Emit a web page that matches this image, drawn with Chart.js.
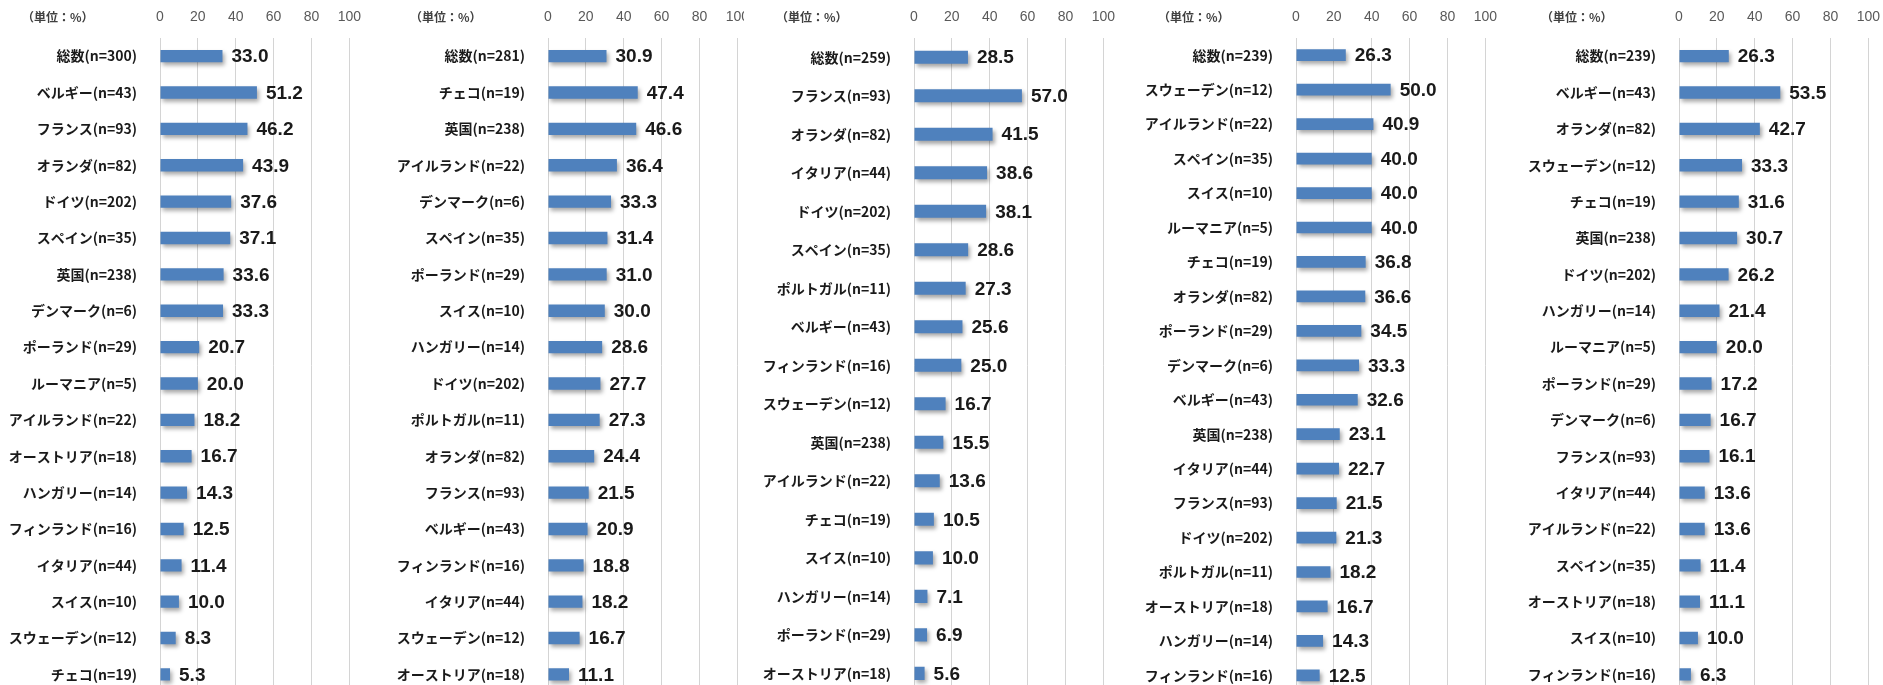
<!DOCTYPE html>
<html lang="ja">
<head>
<meta charset="utf-8">
<script src="https://cdn.jsdelivr.net/npm/chart.js@4/dist/chart.umd.min.js"></script>
<style>
    html, body { margin: 0; padding: 0; background: #fff; overflow: hidden; }
    body { width: 1883px; height: 685px; position: relative; }
    .panel { position: absolute; top: 0; height: 716px; overflow: hidden; }
</style>
</head>
<body>
<div class="panel" style="left:0px;width:373px"><canvas id="chart1" width="373" height="716"></canvas></div>
<div class="panel" style="left:388px;width:356px"><canvas id="chart2" width="373" height="716"></canvas></div>
<div class="panel" style="left:754px;width:373px"><canvas id="chart3" width="373" height="716"></canvas></div>
<div class="panel" style="left:1136px;width:373px"><canvas id="chart4" width="373" height="716"></canvas></div>
<div class="panel" style="left:1519px;width:364px"><canvas id="chart5" width="373" height="716"></canvas></div>

<script>
// 各グラフのデータ（単位：%）
const labels1 = ["総数(n=300)", "ベルギー(n=43)", "フランス(n=93)", "オランダ(n=82)", "ドイツ(n=202)", "スペイン(n=35)",
    "英国(n=238)", "デンマーク(n=6)", "ポーランド(n=29)", "ルーマニア(n=5)", "アイルランド(n=22)", "オーストリア(n=18)",
    "ハンガリー(n=14)", "フィンランド(n=16)", "イタリア(n=44)", "スイス(n=10)", "スウェーデン(n=12)", "チェコ(n=19)"];
const values1 = [33.0, 51.2, 46.2, 43.9, 37.6, 37.1, 33.6, 33.3, 20.7, 20.0, 18.2, 16.7, 14.3, 12.5, 11.4, 10.0, 8.3, 5.3];

const labels2 = ["総数(n=281)", "チェコ(n=19)", "英国(n=238)", "アイルランド(n=22)", "デンマーク(n=6)", "スペイン(n=35)",
    "ポーランド(n=29)", "スイス(n=10)", "ハンガリー(n=14)", "ドイツ(n=202)", "ポルトガル(n=11)", "オランダ(n=82)",
    "フランス(n=93)", "ベルギー(n=43)", "フィンランド(n=16)", "イタリア(n=44)", "スウェーデン(n=12)", "オーストリア(n=18)"];
const values2 = [30.9, 47.4, 46.6, 36.4, 33.3, 31.4, 31.0, 30.0, 28.6, 27.7, 27.3, 24.4, 21.5, 20.9, 18.8, 18.2, 16.7, 11.1];

const labels3 = ["総数(n=259)", "フランス(n=93)", "オランダ(n=82)", "イタリア(n=44)", "ドイツ(n=202)", "スペイン(n=35)",
    "ポルトガル(n=11)", "ベルギー(n=43)", "フィンランド(n=16)", "スウェーデン(n=12)", "英国(n=238)", "アイルランド(n=22)",
    "チェコ(n=19)", "スイス(n=10)", "ハンガリー(n=14)", "ポーランド(n=29)", "オーストリア(n=18)"];
const values3 = [28.5, 57.0, 41.5, 38.6, 38.1, 28.6, 27.3, 25.6, 25.0, 16.7, 15.5, 13.6, 10.5, 10.0, 7.1, 6.9, 5.6];

const labels4 = ["総数(n=239)", "スウェーデン(n=12)", "アイルランド(n=22)", "スペイン(n=35)", "スイス(n=10)", "ルーマニア(n=5)",
    "チェコ(n=19)", "オランダ(n=82)", "ポーランド(n=29)", "デンマーク(n=6)", "ベルギー(n=43)", "英国(n=238)",
    "イタリア(n=44)", "フランス(n=93)", "ドイツ(n=202)", "ポルトガル(n=11)", "オーストリア(n=18)", "ハンガリー(n=14)",
    "フィンランド(n=16)"];
const values4 = [26.3, 50.0, 40.9, 40.0, 40.0, 40.0, 36.8, 36.6, 34.5, 33.3, 32.6, 23.1, 22.7, 21.5, 21.3, 18.2, 16.7, 14.3, 12.5];

const labels5 = ["総数(n=239)", "ベルギー(n=43)", "オランダ(n=82)", "スウェーデン(n=12)", "チェコ(n=19)", "英国(n=238)",
    "ドイツ(n=202)", "ハンガリー(n=14)", "ルーマニア(n=5)", "ポーランド(n=29)", "デンマーク(n=6)", "フランス(n=93)",
    "イタリア(n=44)", "アイルランド(n=22)", "スペイン(n=35)", "オーストリア(n=18)", "スイス(n=10)", "フィンランド(n=16)"];
const values5 = [26.3, 53.5, 42.7, 33.3, 31.6, 30.7, 26.2, 21.4, 20.0, 17.2, 16.7, 16.1, 13.6, 13.6, 11.4, 11.1, 10.0, 6.3];

const unitText = "（単位：%）";
const axisMin = 0;
const axisMax = 100;
const axisStep = 20;

// 棒の影
const barShadow = {
    id: "barShadow",
    beforeDatasetsDraw(chart) {
        const ctx = chart.ctx;
        ctx.save();
        ctx.shadowColor = "rgba(0,0,0,0.35)";
        ctx.shadowBlur = 4;
        ctx.shadowOffsetX = 2;
        ctx.shadowOffsetY = 3;
    },
    afterDatasetsDraw(chart) {
        chart.ctx.restore();
    }
};

// 数値ラベルと単位表示
const valueLabels = {
    id: "valueLabels",
    afterDraw(chart) {
        const ctx = chart.ctx;
        const data = chart.data.datasets[0].data;
        ctx.save();
        ctx.fillStyle = "#1a1a1a";
        ctx.font = "bold 19px 'Liberation Sans', Arial, sans-serif";
        ctx.textAlign = "left";
        ctx.textBaseline = "middle";
        chart.getDatasetMeta(0).data.forEach((bar, i) => {
            ctx.fillText(data[i].toFixed(1), bar.x + 9, bar.y + 1);
        });

        ctx.fillStyle = "#404040";
        ctx.font = "bold 12px 'Noto Sans CJK JP', sans-serif";
        ctx.fillText(unitText, chart.chartArea.left - 138, 17);
        ctx.restore();
    }
};

function makeChart(id, labels, values) {
    const ctx = document.getElementById(id).getContext("2d");
    return new Chart(ctx, {
        type: "bar",
        data: {
            labels: labels,
            datasets: [{
                data: values,
                backgroundColor: "#4f81bd",
                borderWidth: 0,
                categoryPercentage: 1,
                barPercentage: 0.34
            }]
        },
        options: {
            indexAxis: "y",
            responsive: false,
            maintainAspectRatio: false,
            animation: false,
            layout: { padding: { top: 0, right: 20, bottom: 8, left: 0 } },
            plugins: {
                legend: { display: false },
                tooltip: { enabled: false }
            },
            scales: {
                x: {
                    position: "top",
                    min: axisMin,
                    max: axisMax,
                    ticks: {
                        stepSize: axisStep,
                        padding: 12,
                        color: "#595959",
                        font: { family: "'Liberation Sans', Arial, sans-serif", size: 14 }
                    },
                    grid: { color: "#d4d4d4", lineWidth: 1, drawTicks: false },
                    border: { display: false },
                    afterFit: scale => { scale.height = 38; }
                },
                y: {
                    ticks: {
                        autoSkip: false,
                        padding: 15,
                        color: "#1a1a1a",
                        font: { family: "'Noto Sans CJK JP', sans-serif", size: 14, weight: "bold" }
                    },
                    grid: { display: false },
                    border: { display: false },
                    afterFit: scale => { scale.width = 160; }
                }
            }
        },
        plugins: [barShadow, valueLabels]
    });
}

makeChart("chart1", labels1, values1);
makeChart("chart2", labels2, values2);
makeChart("chart3", labels3, values3);
makeChart("chart4", labels4, values4);
makeChart("chart5", labels5, values5);
</script>
</body>
</html>
